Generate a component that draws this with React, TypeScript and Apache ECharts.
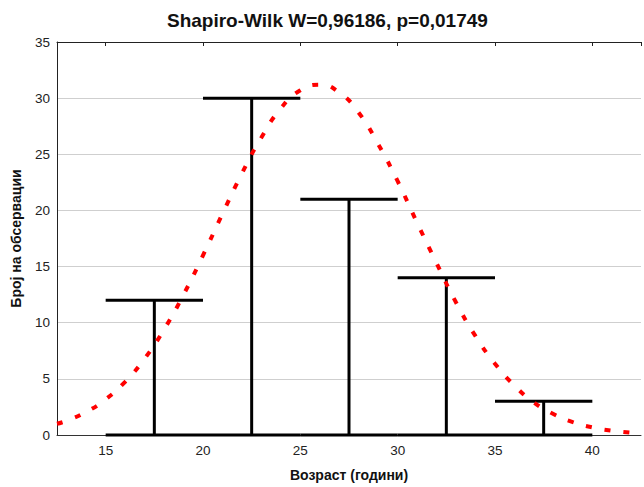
import React, { useEffect, useRef } from "react";
import * as echarts from "echarts";

const titleText = "Shapiro-Wilk W=0,96186, p=0,01749";
const xAxisName = "Возраст (години)";
const yAxisName = "Број на обсервации";

// histogram bins: start, end, count
const binStarts = [15, 20, 25, 30, 35];
const binEnds = [20, 25, 30, 35, 40];
const binCounts = [12, 30, 21, 14, 3];

// expected normal curve
const curveX = [12.5, 13, 14, 15, 16, 17, 18, 19, 20, 21, 22, 23, 24, 25, 26, 27, 28, 29, 30, 31, 32, 33, 34, 35, 36, 37, 38, 39, 40, 41, 42, 42.5];
const curveY = [1.0, 1.27, 2.05, 3.18, 4.74, 6.8, 9.4, 12.5, 16.0, 19.7, 23.3, 26.5, 29.1, 30.7, 31.2, 30.5, 28.7, 25.9, 22.6, 18.9, 15.3, 11.8, 8.8, 6.35, 4.4, 2.9, 1.87, 1.15, 0.68, 0.39, 0.21, 0.15];

export default function App() {
  const ref = useRef<HTMLDivElement>(null);
  useEffect(() => {
    if (!ref.current) return;
    const chart = echarts.init(ref.current, undefined, { renderer: "svg" });
    const font = "Liberation Sans, Arial, sans-serif";
    const histData = binStarts.map((s, i) => [s, binEnds[i], binCounts[i]]);
    chart.setOption({
      animation: false,
      textStyle: { fontFamily: font },
      title: {
        text: titleText,
        left: 162,
        top: 6,
        textStyle: { fontSize: 19, fontWeight: "bold", color: "#111", fontFamily: font },
      },
      grid: { left: 57, right: 0, top: 42, bottom: 48 },
      xAxis: [
        {
          type: "value",
          min: 12.5,
          max: 42.5,
          splitNumber: 6,
          position: "bottom",
          name: xAxisName,
          nameLocation: "middle",
          nameGap: 33,
          nameTextStyle: { fontSize: 14, fontWeight: "bold", color: "#111", fontFamily: font },
          axisLine: { show: true, lineStyle: { color: "#333", width: 1 } },
          axisTick: { show: false },
          splitLine: { show: false },
          axisLabel: {
            fontSize: 13.5,
            color: "#222",
            margin: 8,
            formatter: (v: number) => (v % 5 === 0 ? String(v) : ""),
          },
        },
        {
          type: "value",
          min: 12.5,
          max: 42.5,
          splitNumber: 6,
          position: "top",
          axisLine: { show: true, onZero: false, lineStyle: { color: "#222", width: 1 } },
          axisTick: { show: true, inside: true, length: 4, lineStyle: { color: "#222" } },
          axisLabel: { show: false },
          splitLine: { show: false },
        },
      ],
      yAxis: {
        type: "value",
        min: 0,
        max: 35,
        interval: 5,
        name: yAxisName,
        nameLocation: "middle",
        nameGap: 34,
        nameTextStyle: { fontSize: 14, fontWeight: "bold", color: "#111", fontFamily: font },
        axisLine: { show: true, lineStyle: { color: "#222", width: 1 } },
        axisTick: { show: false },
        axisLabel: { fontSize: 13.5, color: "#222", margin: 7 },
        splitLine: { show: true, lineStyle: { color: "#cfcfcf", width: 1 } },
      },
      series: [
        {
          type: "custom",
          xAxisIndex: 0,
          data: histData,
          encode: { x: [0, 1], y: 2 },
          renderItem: (params: any, api: any) => {
            const s = api.value(0);
            const e = api.value(1);
            const c = api.value(2);
            const pS = api.coord([s, c]);
            const pE = api.coord([e, c]);
            const pM = api.coord([(s + e) / 2, c]);
            const pM0 = api.coord([(s + e) / 2, 0]);
            const b0 = api.coord([s, 0]);
            const b1 = api.coord([e, 0]);
            const style = { stroke: "#000", lineWidth: 3, fill: null };
            return {
              type: "group",
              children: [
                { type: "line", shape: { x1: b0[0], y1: b0[1], x2: b1[0], y2: b1[1] }, style },
                { type: "line", shape: { x1: pM0[0], y1: pM0[1], x2: pM[0], y2: pM[1] }, style },
                { type: "line", shape: { x1: pS[0], y1: pS[1], x2: pE[0], y2: pE[1] }, style },
              ],
            };
          },
          z: 2,
        },
        {
          type: "line",
          xAxisIndex: 0,
          data: curveX.map((x, i) => [x, curveY[i]]),
          smooth: true,
          showSymbol: false,
          clip: true,
          lineStyle: { color: "#ff0000", width: 4, type: [6, 13] },
          z: 3,
        },
      ],
    });
    return () => chart.dispose();
  }, []);
  return <div ref={ref} style={{ position: "absolute", left: 0, top: 0, width: 644, height: 487 }} />;
}
